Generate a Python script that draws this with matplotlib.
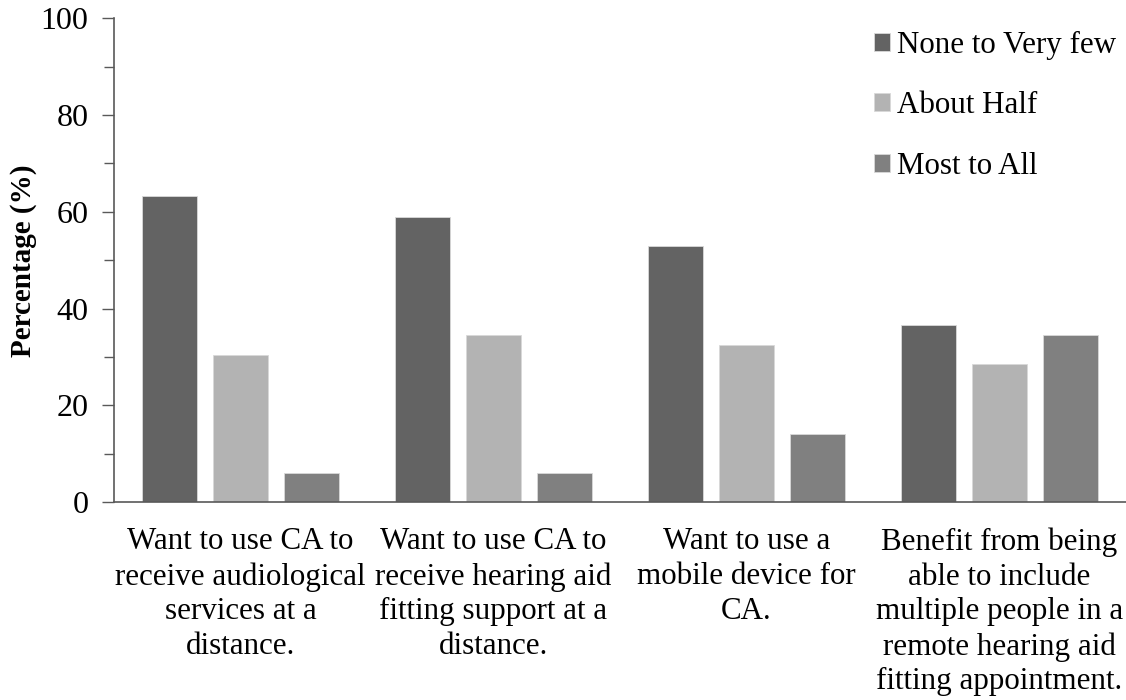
import matplotlib.pyplot as plt
import numpy as np

plt.rcParams['font.family'] = ['Liberation Serif', 'DejaVu Serif']

categories = ["Want to use CA to\nreceive audiological\nservices at a\ndistance.",
              "Want to use CA to\nreceive hearing aid\nfitting support at a\ndistance.",
              "Want to use a\nmobile device for\nCA.",
              "Benefit from being\nable to include\nmultiple people in a\nremote hearing aid\nfitting appointment."]
series = ["None to Very few", "About Half", "Most to All"]
none_few = [63.2, 59.0, 52.9, 36.6]
about_half = [30.5, 34.5, 32.5, 28.5]
most_all = [6.0, 6.0, 14.2, 34.5]
colors = ["#636363", "#b3b3b3", "#808080"]

fig = plt.figure(figsize=(11.26, 7), dpi=100)
ax = fig.add_axes([0.1012, 0.2824, 0.8988, 0.6916])

x = np.arange(len(categories))
w = 0.2186
step = 0.2795
for i, (vals, name) in enumerate(zip([none_few, about_half, most_all], series)):
    ax.bar(x + (i - 1) * step, vals, w, color=colors[i], label=name,
           edgecolor="#d9d9d9", linewidth=0.6)

ax.set_xlim(-0.5, 3.5)
ax.set_ylim(0, 100)
ax.set_yticks(np.arange(0, 101, 20))
ax.set_yticks(np.arange(10, 100, 20), minor=True)
ax.set_xticks(x)
ax.set_xticklabels(categories, fontsize=22.3, linespacing=1.26)
ax.tick_params(axis='x', length=0, pad=18)
ax.tick_params(axis='y', which='major', labelsize=23, length=9, direction='out',
               color='#595959', width=1, pad=9.5)
ax.tick_params(axis='y', which='minor', length=7, direction='out', color='#595959', width=1)
ax.set_ylabel("Percentage (%)", fontsize=21, fontweight='bold')
ax.yaxis.set_label_coords(-0.076, 0.5)

for s in ['top', 'right']:
    ax.spines[s].set_visible(False)
for s in ['left', 'bottom']:
    ax.spines[s].set_color('#595959')
    ax.spines[s].set_linewidth(1.2)

ax.legend(loc='upper left', bbox_to_anchor=(0.7516, 0.996), bbox_transform=fig.transFigure,
          frameon=False, fontsize=22.3, handlelength=0.5, handleheight=0.5,
          handletextpad=0.25, labelspacing=1.02)

fig.savefig("out.png", dpi=100)
